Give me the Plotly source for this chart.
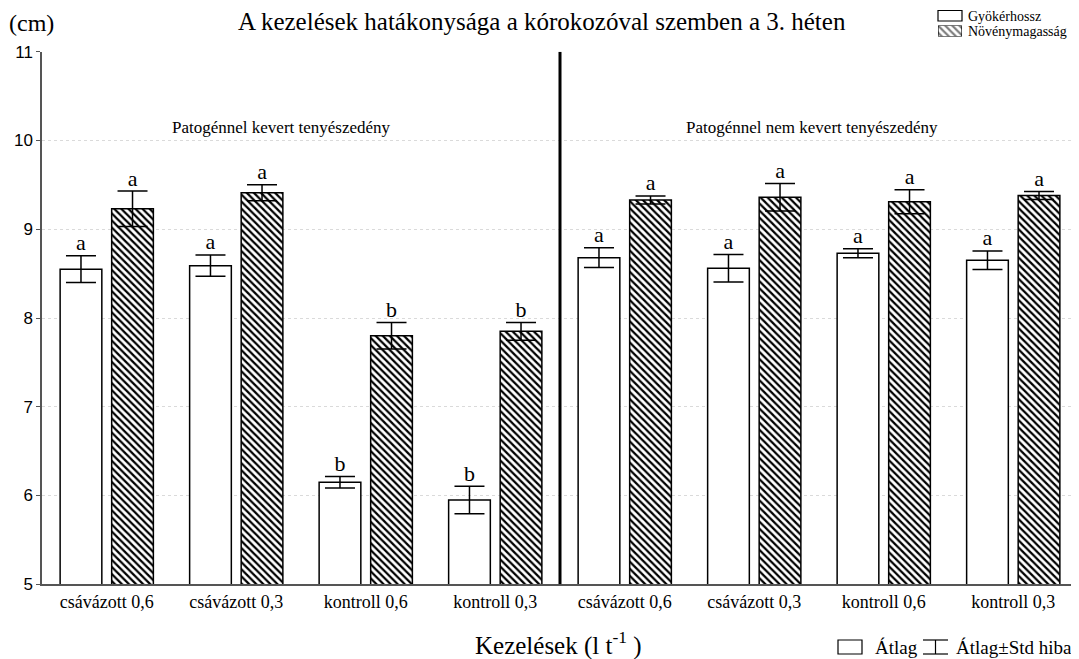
import plotly.graph_objects as go

kezelesek = ["csávázott 0,6", "csávázott 0,3", "kontroll 0,6", "kontroll 0,3",
             "csávázott 0,6", "csávázott 0,3", "kontroll 0,6", "kontroll 0,3"]
gyokerhossz = [8.55, 8.59, 6.15, 5.95, 8.68, 8.56, 8.73, 8.65]
gyokerhossz_se = [0.15, 0.12, 0.065, 0.155, 0.11, 0.155, 0.05, 0.105]
novenymagassag = [9.23, 9.41, 7.80, 7.85, 9.33, 9.36, 9.31, 9.38]
novenymagassag_se = [0.20, 0.09, 0.15, 0.10, 0.045, 0.155, 0.135, 0.045]
gyoker_betu = ["a", "a", "b", "b", "a", "a", "a", "a"]
noveny_betu = ["a", "a", "b", "b", "a", "a", "a", "a"]

SERIF = "Liberation Serif"
SANS = "Liberation Sans"

# the page body adds 8px around the figure; helpers turn window pixels into paper coords
W, H, PAD = 1071, 651, 8


def px(sx):
    return (sx - PAD) / W


def py(sy):
    return 1 - (sy - PAD) / H


xs = list(range(len(kezelesek)))
bar_w = 0.322
off_left, off_right = -0.36, 0.038
shift_left = off_left + bar_w / 2
shift_right = off_right + bar_w / 2
hatch = dict(shape="\\", fgcolor="black", bgcolor="white", size=5, solidity=0.45, fillmode="replace")

fig = go.Figure()

fig.add_trace(go.Bar(
    x=xs, y=gyokerhossz, name="Gyökérhossz",
    width=bar_w, offset=off_left,
    marker=dict(color="white", line=dict(color="black", width=1.5)),
    error_y=dict(type="data", array=gyokerhossz_se, color="black", thickness=1.5, width=15),
))
fig.add_trace(go.Bar(
    x=xs, y=novenymagassag, name="Növénymagasság",
    width=bar_w, offset=off_right,
    marker=dict(color="white", line=dict(color="black", width=1.5), pattern=hatch),
    error_y=dict(type="data", array=novenymagassag_se, color="black", thickness=1.5, width=15),
))

# significance letters above the error bars
for shift, vals, errs, letters in [(shift_left, gyokerhossz, gyokerhossz_se, gyoker_betu),
                                   (shift_right, novenymagassag, novenymagassag_se, noveny_betu)]:
    fig.add_trace(go.Scatter(
        x=[x + shift for x in xs],
        y=[v + e for v, e in zip(vals, errs)],
        text=letters, mode="text", textposition="top center",
        textfont=dict(family=SERIF, size=22, color="black"), hoverinfo="skip",
    ))

# hatched legend swatch drawn on a tiny helper axis
fig.add_trace(go.Scatter(
    x=[0, 1, 1, 0, 0], y=[0, 0, 1, 1, 0], xaxis="x2", yaxis="y2",
    mode="lines", fill="toself", line=dict(color="black", width=1.2),
    fillcolor="white", fillpattern=dict(shape="\\", fgcolor="black", bgcolor="white",
                                        size=5, solidity=0.45),
    hoverinfo="skip",
))

fig.add_shape(type="line", x0=3.5, x1=3.5, y0=5, y1=11, xref="x", yref="y",
              line=dict(color="black", width=3))

# top-right legend: white swatch
fig.add_shape(type="rect", xref="paper", yref="paper", x0=px(938), x1=px(962), y0=py(21), y1=py(10.5),
              line=dict(color="black", width=1.2), fillcolor="white")

# bottom-right legend: mean box and error-bar glyph
fig.add_shape(type="rect", xref="paper", yref="paper", x0=px(838), x1=px(862), y0=py(654), y1=py(640),
              line=dict(color="black", width=1.2), fillcolor="white")
fig.add_shape(type="line", xref="paper", yref="paper", x0=px(923), x1=px(948), y0=py(640), y1=py(640),
              line=dict(color="black", width=1.2))
fig.add_shape(type="line", xref="paper", yref="paper", x0=px(935.5), x1=px(935.5), y0=py(640), y1=py(654),
              line=dict(color="black", width=1.2))
fig.add_shape(type="line", xref="paper", yref="paper", x0=px(923), x1=px(948), y0=py(654), y1=py(654),
              line=dict(color="black", width=1.2))

annots = [
    dict(text="A kezelések hatákonysága a kórokozóval szemben a 3. héten", x=px(542), y=py(22),
         xanchor="center", yanchor="middle", font=dict(family=SERIF, size=25)),
    dict(text="(cm)", x=px(7), y=py(23), xanchor="left", yanchor="middle",
         font=dict(family=SERIF, size=24)),
    dict(text="Patogénnel kevert tenyészedény", x=px(170), y=py(127),
         xanchor="left", yanchor="middle", font=dict(family=SERIF, size=17)),
    dict(text="Patogénnel nem kevert tenyészedény", x=px(812), y=py(127),
         xanchor="center", yanchor="middle", font=dict(family=SERIF, size=17)),
    dict(text="Kezelések (l t<sup>-1</sup> )", x=px(558), y=py(643), xanchor="center", yanchor="middle",
         font=dict(family=SERIF, size=25)),
    dict(text="Gyökérhossz", x=px(966), y=py(16), xanchor="left", yanchor="middle",
         font=dict(family=SERIF, size=14)),
    dict(text="Növénymagasság", x=px(966), y=py(31), xanchor="left", yanchor="middle",
         font=dict(family=SERIF, size=14)),
    dict(text="Átlag", x=px(873), y=py(647), xanchor="left", yanchor="middle",
         font=dict(family=SERIF, size=19)),
    dict(text="Átlag±Std hiba", x=px(954), y=py(647), xanchor="left", yanchor="middle",
         font=dict(family=SERIF, size=19)),
]
for a in annots:
    a.update(xref="paper", yref="paper", showarrow=False)
    a["font"]["color"] = "black"
    fig.add_annotation(**a)

fig.update_layout(
    width=W, height=H,
    margin=dict(l=0, r=0, t=0, b=0, autoexpand=False),
    paper_bgcolor="white", plot_bgcolor="white",
    barmode="overlay",
    showlegend=False,
    xaxis=dict(domain=[px(42), px(1078)], range=[-0.5, 7.5], tickmode="array", tickvals=xs,
               ticktext=kezelesek, showline=True, linecolor="#555", linewidth=1.5,
               showgrid=False, zeroline=False, ticks="",
               tickfont=dict(family=SERIF, size=18, color="black")),
    yaxis=dict(domain=[py(584.3), py(51.7)], range=[5, 11], dtick=1, showline=True,
               linecolor="#555", linewidth=1.5, ticks="outside", ticklen=4, tickcolor="#555",
               showgrid=True, gridcolor="#dadada", griddash="dot", gridwidth=1, zeroline=False,
               tickfont=dict(family=SANS, size=17, color="black")),
    xaxis2=dict(domain=[px(938), px(962)], range=[0, 1], anchor="y2", visible=False, fixedrange=True),
    yaxis2=dict(domain=[py(36.5), py(25.5)], range=[0, 1], anchor="x2", visible=False, fixedrange=True),
)

fig.write_html("out.html")
